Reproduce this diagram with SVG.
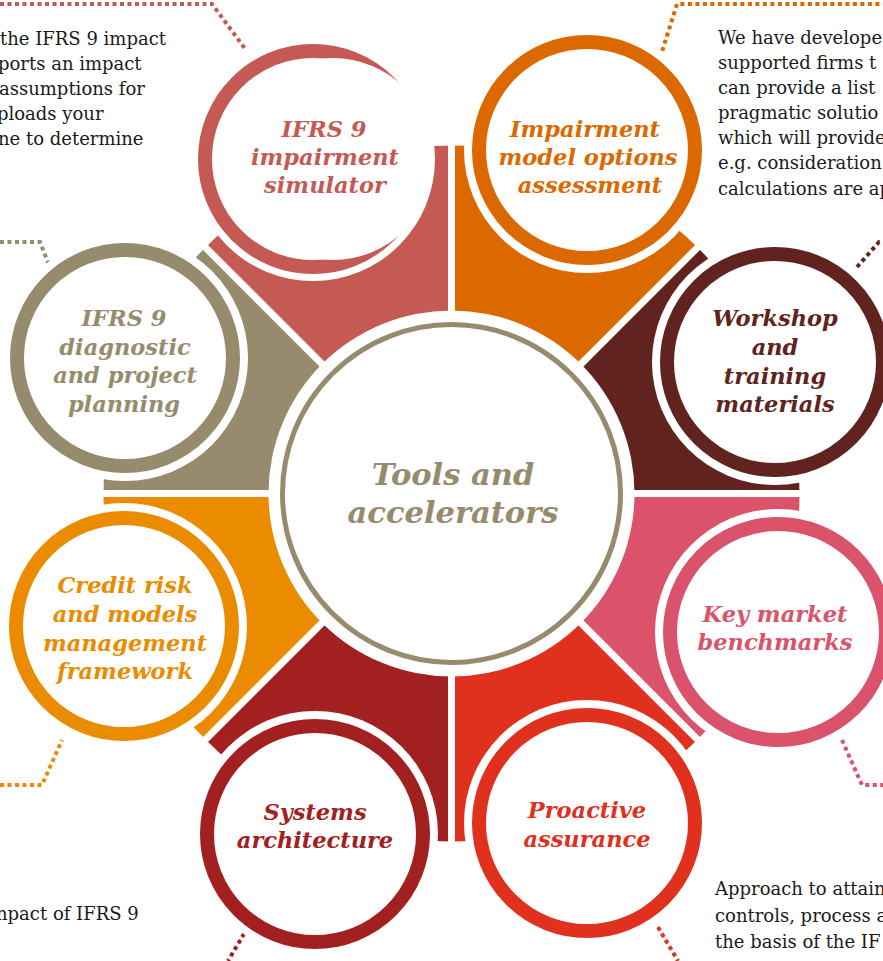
<svg xmlns="http://www.w3.org/2000/svg" width="883" height="961" viewBox="0 0 883 961">
<defs>
<style>
.body{font-family:"DejaVu Serif","Liberation Serif",serif;font-size:18px;fill:#1a1a1a}
.lbl{font-family:"DejaVu Serif","Liberation Serif",serif;font-size:22.5px;font-weight:bold;font-style:italic;text-anchor:middle}
.halo{fill:#fff}
.ring{fill:#fff;stroke-width:14}
.dots{fill:none;stroke-width:4;stroke-dasharray:4 3.5}
.gap{stroke:#fff;stroke-width:7}
</style>
</defs>
<rect width="883" height="961" fill="#fff"/>
<g id="segments">
<path d="M451.5,493.5 L205.4,247.4 A348,348 0 0 1 451.5,145.5 Z" fill="#C55A54"/>
<path d="M451.5,493.5 L451.5,145.5 A348,348 0 0 1 697.6,247.4 Z" fill="#DC6900"/>
<path d="M451.5,493.5 L697.6,247.4 A348,348 0 0 1 799.5,493.5 Z" fill="#602320"/>
<path d="M451.5,493.5 L799.5,493.5 A348,348 0 0 1 697.6,739.6 Z" fill="#DB536A"/>
<path d="M451.5,493.5 L697.6,739.6 A348,348 0 0 1 451.5,841.5 Z" fill="#E0301E"/>
<path d="M451.5,493.5 L451.5,841.5 A348,348 0 0 1 205.4,739.6 Z" fill="#A32020"/>
<path d="M451.5,493.5 L205.4,739.6 A348,348 0 0 1 103.5,493.5 Z" fill="#EB8C00"/>
<path d="M451.5,493.5 L103.5,493.5 A348,348 0 0 1 205.4,247.4 Z" fill="#968C6D"/>
<line class="gap" x1="451.5" y1="130" x2="451.5" y2="857"/>
<line class="gap" x1="90" y1="493.5" x2="813" y2="493.5"/>
<line class="gap" x1="195" y1="237" x2="708" y2="750"/>
<line class="gap" x1="708" y1="237" x2="195" y2="750"/>
</g>
<g id="connectors">
<path class="dots" stroke="#C55A54" d="M0,4 H212 L246,50"/>
<path class="dots" stroke="#DC6900" d="M660,58 L677,4 H883"/>
<path class="dots" stroke="#968C6D" d="M0,242 H40 L49,265"/>
<path class="dots" stroke="#602320" d="M857,267 L879,242 H883"/>
<path class="dots" stroke="#EB8C00" d="M0,785 H42 L62,740"/>
<path class="dots" stroke="#DB536A" d="M842,740 L862,785 H883"/>
<path class="dots" stroke="#A32020" d="M248,927 L228,961"/>
<path class="dots" stroke="#E0301E" d="M658,927 L678,961"/>
</g>
<g id="center">
<circle cx="451.5" cy="493.5" r="183" fill="#fff"/>
<circle cx="451.5" cy="493.5" r="169" fill="#fff" stroke="#968C6D" stroke-width="5"/>
<text class="lbl" fill="#968C6D" style="font-size:30.5px" x="453" y="485">Tools and</text>
<text class="lbl" fill="#968C6D" style="font-size:30.5px" x="453" y="523">accelerators</text>
</g>
<g id="node-impairment-simulator">
<circle class="halo" cx="313" cy="159" r="122"/>
<circle class="ring" stroke="#C55A54" cx="313" cy="159" r="108"/>
<circle fill="#fff" cx="333" cy="159" r="101"/>
<text class="lbl" fill="#C55A54" x="324" y="137">IFRS 9</text>
<text class="lbl" fill="#C55A54" x="325" y="165">impairment</text>
<text class="lbl" fill="#C55A54" x="325" y="193">simulator</text>
</g>
<g id="node-model-options">
<circle class="halo" cx="587" cy="150" r="123"/>
<circle class="ring" stroke="#DC6900" cx="587" cy="150" r="108"/>
<text class="lbl" fill="#DC6900" x="585" y="137">Impairment</text>
<text class="lbl" fill="#DC6900" x="588" y="165">model options</text>
<text class="lbl" fill="#DC6900" x="590" y="193">assessment</text>
</g>
<g id="node-workshop">
<circle class="halo" cx="775" cy="362" r="123"/>
<circle class="ring" stroke="#602320" cx="775" cy="362" r="108"/>
<text class="lbl" fill="#602320" x="775" y="326">Workshop</text>
<text class="lbl" fill="#602320" x="775" y="355">and</text>
<text class="lbl" fill="#602320" x="775" y="384">training</text>
<text class="lbl" fill="#602320" x="775" y="412">materials</text>
</g>
<g id="node-benchmarks">
<circle class="halo" cx="778" cy="632" r="123"/>
<circle class="ring" stroke="#DB536A" cx="778" cy="632" r="108"/>
<text class="lbl" fill="#DB536A" x="775" y="622">Key market</text>
<text class="lbl" fill="#DB536A" x="775" y="650">benchmarks</text>
</g>
<g id="node-proactive-assurance">
<circle class="halo" cx="587" cy="823" r="123"/>
<circle class="ring" stroke="#E0301E" cx="587" cy="823" r="108"/>
<text class="lbl" fill="#E0301E" x="587" y="818">Proactive</text>
<text class="lbl" fill="#E0301E" x="587" y="847">assurance</text>
</g>
<g id="node-systems-architecture">
<circle class="halo" cx="315" cy="834" r="123"/>
<circle class="ring" stroke="#A32020" cx="315" cy="834" r="108"/>
<text class="lbl" fill="#A32020" x="315" y="820">Systems</text>
<text class="lbl" fill="#A32020" x="315" y="848">architecture</text>
</g>
<g id="node-credit-risk">
<circle class="halo" cx="124" cy="626" r="123"/>
<circle class="ring" stroke="#EB8C00" cx="124" cy="626" r="108"/>
<text class="lbl" fill="#EB8C00" x="125" y="593">Credit risk</text>
<text class="lbl" fill="#EB8C00" x="125" y="622">and models</text>
<text class="lbl" fill="#EB8C00" x="125" y="651">management</text>
<text class="lbl" fill="#EB8C00" x="125" y="679">framework</text>
</g>
<g id="node-diagnostic">
<circle class="halo" cx="125" cy="358" r="123"/>
<circle class="ring" stroke="#968C6D" cx="125" cy="358" r="108"/>
<text class="lbl" fill="#968C6D" x="124" y="326">IFRS 9</text>
<text class="lbl" fill="#968C6D" x="125" y="355">diagnostic</text>
<text class="lbl" fill="#968C6D" x="125" y="383">and project</text>
<text class="lbl" fill="#968C6D" x="124" y="412">planning</text>
</g>
<g id="notes">
<text class="body" x="0" y="45">the IFRS 9 impact</text>
<text class="body" x="-2" y="70">ports an impact</text>
<text class="body" x="-1" y="95">assumptions for</text>
<text class="body" x="-3" y="120">ploads your</text>
<text class="body" x="-2" y="145">ne to determine</text>
<text class="body" x="718" y="44">We have develope</text>
<text class="body" x="718" y="69">supported firms t</text>
<text class="body" x="718" y="94">can provide a list</text>
<text class="body" x="718" y="119">pragmatic solutio</text>
<text class="body" x="718" y="144">which will provide</text>
<text class="body" x="718" y="169">e.g. consideration</text>
<text class="body" x="718" y="195">calculations are ap</text>
<text class="body" x="-4" y="920">npact of IFRS 9</text>
<text class="body" x="715" y="895">Approach to attain</text>
<text class="body" x="715" y="922">controls, process a</text>
<text class="body" x="715" y="948">the basis of the IF</text>
</g>
</svg>
